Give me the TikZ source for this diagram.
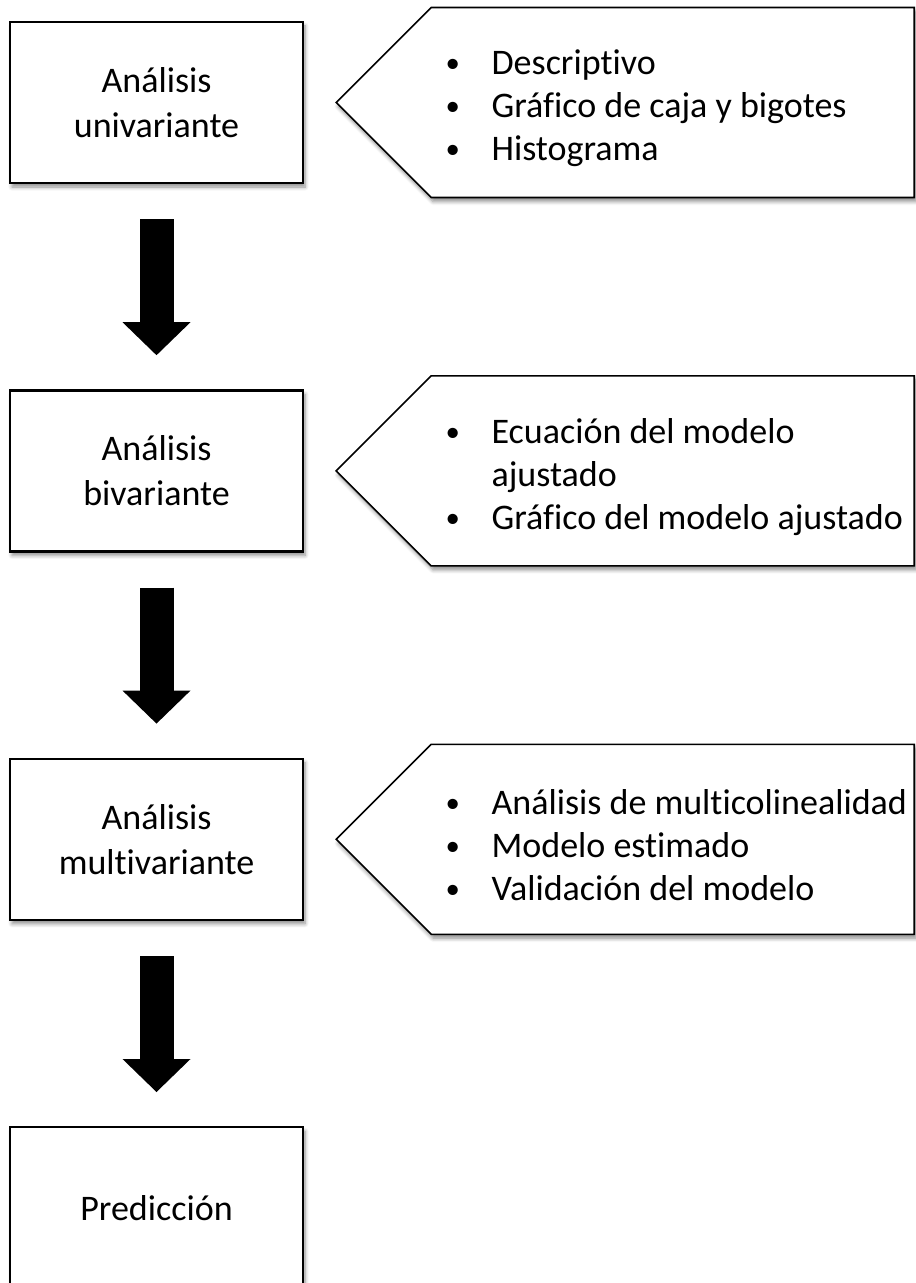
\documentclass[tikz,border=0pt]{standalone}
\usepackage{fontspec}
\setmainfont{Carlito}[Ligatures=NoCommon]
\usetikzlibrary{arrows.meta,positioning,shadows.blur}

\tikzset{
  sombra/.style={blur shadow={shadow xshift=1pt, shadow yshift=-2pt, shadow blur steps=6, shadow opacity=45}},
  caja/.style={draw=black, line width=1.2pt, fill=white, sombra, minimum width=146.5pt, minimum height=80.5pt, align=center, font=\fontsize{18}{22.5}\selectfont},
  llamada/.style={draw=black, line width=0.8pt, fill=white, sombra},
  lista/.style={anchor=west, align=left, inner sep=0pt, yshift=-3pt, font=\fontsize{18}{21.5}\selectfont},
  flecha/.style={line width=17pt, -{Triangle[length=16.5pt,width=34pt,line width=0pt]}, shorten <=17.5pt, shorten >=17pt}
}
\newcommand{\vineta}{\makebox[23pt][l]{\raisebox{0.12ex}{\scalebox{0.8}{•}}}}

\begin{document}
\begin{tikzpicture}[x=0.5pt,y=-0.5pt]
    \useasboundingbox (0,0) rectangle (915,1283);

    % pasos
    \node[caja] (b1) at (156.5,102.5) {Análisis\\univariante};
    \node[caja, below=102.5pt of b1] (b2) {Análisis\\bivariante};
    \node[caja, below=102.5pt of b2] (b3) {Análisis\\multivariante};
    \node[caja, below=102.5pt of b3] (b4) {Predicción};

    % flechas
    \draw[flecha] (b1.south) -- (b2.north);
    \draw[flecha] (b2.south) -- (b3.north);
    \draw[flecha] (b3.south) -- (b4.north);

    % llamadas
    \draw[llamada] ([xshift=16pt]b1.east) coordinate (p1) -- ++(95,-95) -- ++(483,0) -- ++(0,190) -- ++(-483,0) -- cycle;
    \draw[llamada] ([xshift=16pt]b2.east) coordinate (p2) -- ++(95,-95) -- ++(483,0) -- ++(0,190) -- ++(-483,0) -- cycle;
    \draw[llamada] ([xshift=16pt]b3.east) coordinate (p3) -- ++(95,-95) -- ++(483,0) -- ++(0,190) -- ++(-483,0) -- cycle;

    \node[lista] (l1) at ([xshift=54.5pt]p1) {\vineta Descriptivo\\\vineta Gráfico de caja y bigotes\\\vineta Histograma};
    \node[lista] (l2) at ([xshift=54.5pt]p2) {\vineta Ecuación del modelo\\\hspace*{23pt}ajustado\\\vineta Gráfico del modelo ajustado};
    \node[lista] (l3) at ([xshift=54.5pt]p3) {\vineta Análisis de multicolinealidad\\\vineta Modelo estimado\\\vineta Validación del modelo};
\end{tikzpicture}
\end{document}
